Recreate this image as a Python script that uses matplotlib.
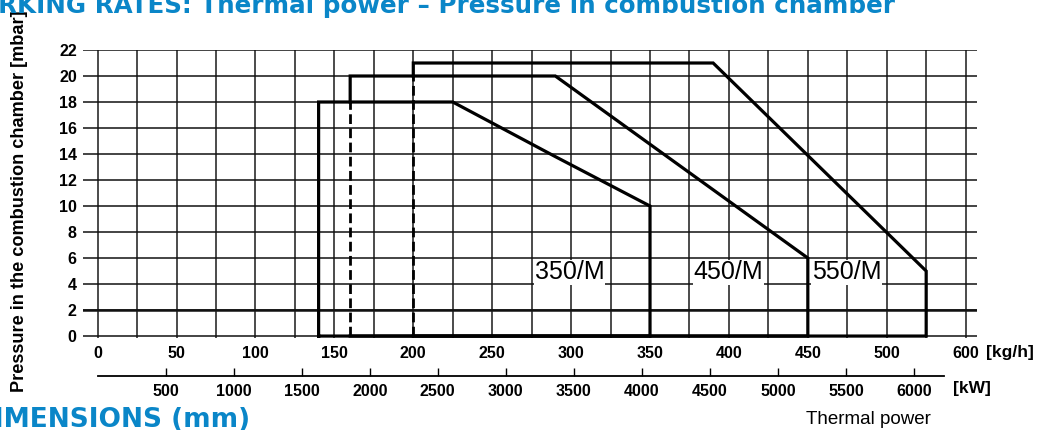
import matplotlib
matplotlib.use("Agg")
import matplotlib.pyplot as plt
from matplotlib.ticker import MultipleLocator, FixedLocator, FixedFormatter

# ---------------- data ----------------
kgh_ticks = [0, 50, 100, 150, 200, 250, 300, 350, 400, 450, 500, 550]
kgh_ticklabels = ["0", "50", "100", "150", "200", "250", "300", "350", "400", "450", "500", "600"]
kw_ticks = [500, 1000, 1500, 2000, 2500, 3000, 3500, 4000, 4500, 5000, 5500, 6000]
mbar_ticks = [0, 2, 4, 6, 8, 10, 12, 14, 16, 18, 20, 22]

m350_kgh = [140, 140, 225, 290, 350, 350, 140]
m350_mbar = [0, 18, 18, 13.8, 10, 0, 0]
m450_kgh = [160, 160, 290, 450, 450, 160]
m450_mbar = [18, 20, 20, 6, 0, 0]
m550_kgh = [200, 200, 390, 525, 525, 200]
m550_mbar = [20, 21, 21, 5, 0, 0]

model_labels = ["350/M", "450/M", "550/M"]
label_kgh = [277, 377.5, 452.5]
label_mbar = [4.9, 4.9, 4.9]

KW_PER_KGH = 11.6
KW_AXIS_END = 6220

# ---------------- figure ----------------
W, H = 1038, 430
fig = plt.figure(figsize=(W / 100, H / 100), dpi=100)
BLUE = "#0a86c8"
SANS = ["Liberation Sans", "DejaVu Sans"]

def fx(px):
    return px / W

def fy(py):
    return 1 - py / H

ax_l, ax_r, ax_t, ax_b = 83, 977, 50, 338
ax = fig.add_axes([fx(ax_l), fy(ax_b), fx(ax_r - ax_l), (ax_b - ax_t) / H])
xlim = (-9.3, 557.2)
ax.set_xlim(*xlim)
ax.set_ylim(-0.15, 22)

ax.xaxis.set_major_locator(FixedLocator(kgh_ticks))
ax.xaxis.set_major_formatter(FixedFormatter(kgh_ticklabels))
ax.xaxis.set_minor_locator(MultipleLocator(25))
ax.set_yticks(mbar_ticks)
ax.grid(which="both", axis="x", color="#1a1a1a", lw=1.1)
ax.grid(which="major", axis="y", color="#111111", lw=1.1)
for s in ax.spines.values():
    s.set_visible(False)
ax.tick_params(which="both", length=0)
ax.tick_params(axis="x", pad=6)
ax.tick_params(axis="y", pad=4.5)
for lab in ax.get_xticklabels() + ax.get_yticklabels():
    lab.set_fontfamily(SANS)
    lab.set_fontweight("bold")
    lab.set_fontsize(11.5)

# thicker 2 mbar line
ax.axhline(mbar_ticks[1], color="#111111", lw=1.8, zorder=1)

LW = 2.3
ax.plot(m350_kgh, m350_mbar, color="black", lw=LW, solid_joinstyle="miter", zorder=3)
ax.plot(m450_kgh, m450_mbar, color="black", lw=LW, solid_joinstyle="miter", zorder=3)
ax.plot(m550_kgh, m550_mbar, color="black", lw=LW, solid_joinstyle="miter", zorder=3)
dash = (0, (3.5, 1.6))
ax.plot([m450_kgh[0]] * 2, [0, m450_mbar[0]], color="black", lw=2.0, ls=dash, zorder=3)
ax.plot([m550_kgh[0]] * 2, [0, m550_mbar[0]], color="black", lw=2.0, ls=dash, zorder=3)

for txt, xv, yv in zip(model_labels, label_kgh, label_mbar):
    ax.text(xv, yv, txt, fontsize=18, family=SANS, ha="left", va="center",
            bbox=dict(facecolor="white", edgecolor="none", pad=0.5), zorder=4)

# kW axis
ax2 = fig.add_axes([fx(ax_l), fy(376), fx(ax_r - ax_l), 0.01])
ax2.set_xlim(xlim[0] * KW_PER_KGH, xlim[1] * KW_PER_KGH)
ax2.set_ylim(0, 1)
ax2.patch.set_visible(False)
for k in ("top", "left", "right"):
    ax2.spines[k].set_visible(False)
ax2.spines["bottom"].set_bounds(0, KW_AXIS_END)
ax2.spines["bottom"].set_linewidth(1.3)
ax2.set_yticks([])
ax2.set_xticks(kw_ticks)
ax2.set_xticklabels([str(v) for v in kw_ticks])
ax2.tick_params(axis="x", direction="in", length=5.5, width=1.0, pad=5.5)
for lab in ax2.get_xticklabels():
    lab.set_fontfamily(SANS)
    lab.set_fontweight("bold")
    lab.set_fontsize(11.5)

# unit labels
fig.text(fx(1010), fy(353), "[kg/h]", fontsize=12.5, fontweight="bold", family=SANS,
         ha="center", va="center")
fig.text(fx(972), fy(388), "[kW]", fontsize=12.5, fontweight="bold", family=SANS,
         ha="center", va="center")
fig.text(fx(868), fy(420), "Thermal power", fontsize=13.5, family=SANS,
         ha="center", va="center")
fig.text(fx(20), fy(201), "Pressure in the combustion chamber [mbar]", fontsize=13.1,
         fontweight="bold", family=SANS, rotation=90, ha="center", va="center")

# cut-off section headings (partly outside the picture, as in the source page)
fig.text(fx(895), fy(13), "WORKING RATES: Thermal power – Pressure in combustion chamber",
         fontsize=17.7, fontweight="bold", family="DejaVu Sans", color=BLUE,
         ha="right", va="baseline")
fig.text(fx(250), fy(427), "DIMENSIONS (mm)", fontsize=19, fontweight="bold",
         family="DejaVu Sans", color=BLUE, ha="right", va="baseline")

fig.savefig("out.png", dpi=100)
